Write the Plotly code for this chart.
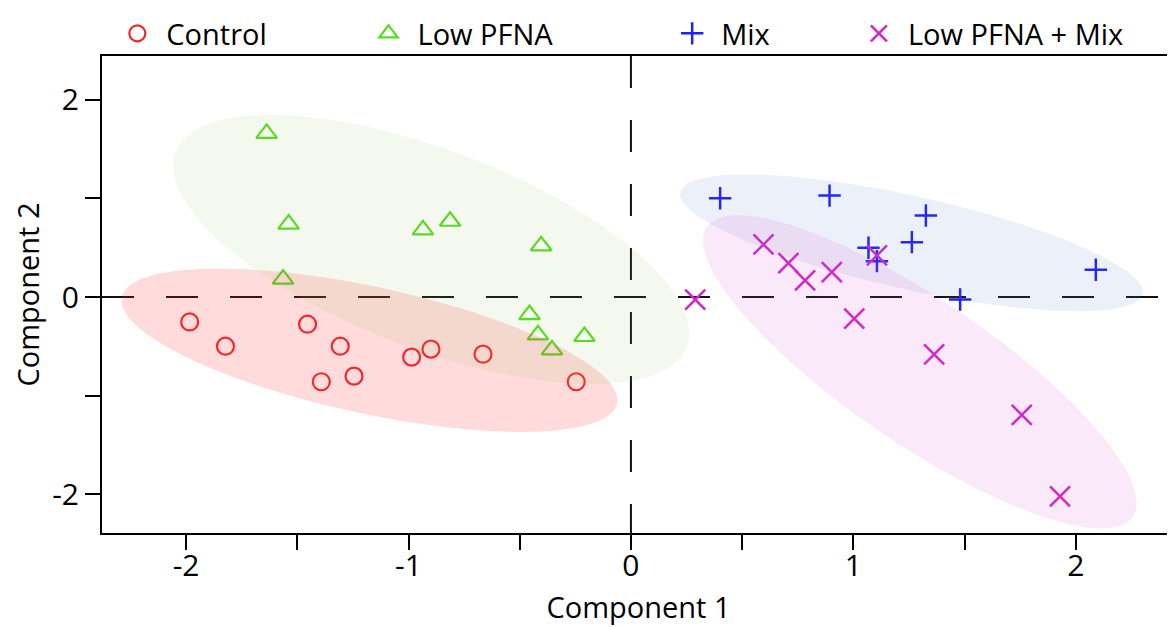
import numpy as np
import plotly.graph_objects as go

# ---- data ----
control_x = [-1.984, -1.823, -1.454, -1.307, -1.392, -1.245, -0.986, -0.899, -0.665, -0.246]
control_y = [-0.253, -0.499, -0.276, -0.499, -0.860, -0.803, -0.610, -0.529, -0.580, -0.860]

lowpfna_x = [-1.638, -1.539, -1.564, -0.935, -0.813, -0.404, -0.456, -0.418, -0.355, -0.209]
lowpfna_y = [1.660, 0.740, 0.182, 0.682, 0.769, 0.520, -0.178, -0.384, -0.536, -0.401]

mix_x = [0.401, 0.893, 1.326, 1.263, 1.068, 1.106, 2.090, 1.480]
mix_y = [1.002, 1.029, 0.827, 0.557, 0.500, 0.364, 0.277, -0.026]

lowmix_x = [0.289, 0.596, 0.708, 0.783, 0.903, 1.106, 1.004, 1.363, 1.757, 1.929]
lowmix_y = [-0.026, 0.533, 0.344, 0.169, 0.253, 0.422, -0.219, -0.583, -1.197, -2.024]

group_names = ["Control", "Low PFNA", "Mix", "Low PFNA + Mix"]

# confidence ellipses: centre, and conjugate half-axis vectors (A,B) and (0,C)
ell_cx = [-1.176, -0.898, 1.261, 1.299]
ell_cy = [-0.540, 0.483, 0.549, -0.759]
ell_a = [1.115, 1.160, 1.040, 0.975]
ell_b = [-0.506, -0.850, -0.498, -1.333]
ell_c = [0.658, 1.070, 0.485, 0.868]

x_tick_vals = [-2, -1.5, -1, -0.5, 0, 0.5, 1, 1.5, 2]
x_tick_text = ["-2", "", "-1", "", "0", "", "1", "", "2"]
y_tick_vals = [-2, -1, 0, 1, 2]
y_tick_text = ["-2", "", "0", "", "2"]

# ---- styles ----
marker_colors = ["#F0282E", "#55DD22", "#2020F8", "#D424C8"]
fill_colors = ["rgba(255,40,40,0.17)", "rgba(150,185,90,0.10)",
               "rgba(80,125,200,0.11)", "rgba(215,70,205,0.12)"]
symbols = ["circle-open", "triangle-up-open", "cross-thin-open", "x-thin-open"]
sizes = [17, 18, 16, 20]
line_w = [2.2, 2.2, 2.5, 2.5]
FONT = "Open Sans"

fig = go.Figure()

xs = [control_x, lowpfna_x, mix_x, lowmix_x]
ys = [control_y, lowpfna_y, mix_y, lowmix_y]
legends = ["legend", "legend2", "legend3", "legend4"]

for i in range(4):
    fig.add_trace(go.Scatter(
        x=xs[i], y=ys[i], mode="markers", name=group_names[i],
        legend=legends[i],
        marker=dict(symbol=symbols[i], size=sizes[i], color=marker_colors[i],
                    line=dict(color=marker_colors[i], width=line_w[i])),
    ))

t = np.linspace(0, 2 * np.pi, 200)
for i in range(4):
    ex = ell_cx[i] + ell_a[i] * np.cos(t)
    ey = ell_cy[i] + ell_b[i] * np.cos(t) + ell_c[i] * np.sin(t)
    fig.add_trace(go.Scatter(
        x=ex, y=ey, mode="lines", fill="toself", fillcolor=fill_colors[i],
        line=dict(width=0), showlegend=False, hoverinfo="skip",
    ))

# zero reference lines
fig.add_shape(type="line", xref="x", yref="paper", x0=0, x1=0, y0=1, y1=0,
              line=dict(color="#111111", width=2, dash="32px,32px"), layer="below")
fig.add_shape(type="line", xref="paper", yref="y", x0=0, x1=1, y0=0, y1=0,
              line=dict(color="#111111", width=2, dash="32px,32px"), layer="below")

axis_common = dict(showline=True, linecolor="black", linewidth=2, ticks="outside",
                   ticklen=15, tickwidth=2, tickcolor="black", showgrid=False,
                   zeroline=False, tickfont=dict(family=FONT, size=30, color="black"))

fig.update_xaxes(range=[-2.378, 2.446], tickvals=x_tick_vals, ticktext=x_tick_text,
                 mirror=True, ticklabelstandoff=-10,
                 title=dict(text="Component 1", standoff=14,
                            font=dict(family=FONT, size=29, color="black")),
                 **axis_common)
fig.update_yaxes(range=[-2.395, 2.446], tickvals=y_tick_vals, ticktext=y_tick_text,
                 title=dict(text="Component 2", standoff=6,
                            font=dict(family=FONT, size=29, color="black")),
                 **axis_common)

leg_x = [0.0059, 0.2400, 0.523, 0.697]
leg_common = dict(orientation="h", y=1.048, yanchor="middle", xanchor="left",
                  font=dict(family=FONT, size=29, color="black"),
                  bgcolor="rgba(0,0,0,0)", itemwidth=48)
# the page body adds an 8px offset, so the figure is 8px smaller with 8px less margin
fig.update_layout(
    width=1167, height=619,
    margin=dict(l=94, r=0, t=47, b=94),
    plot_bgcolor="white", paper_bgcolor="white",
    font=dict(family=FONT, size=29, color="black"),
    legend=dict(x=leg_x[0], **leg_common),
    legend2=dict(x=leg_x[1], **leg_common),
    legend3=dict(x=leg_x[2], **leg_common),
    legend4=dict(x=leg_x[3], **leg_common),
)

fig.write_html("out.html")
